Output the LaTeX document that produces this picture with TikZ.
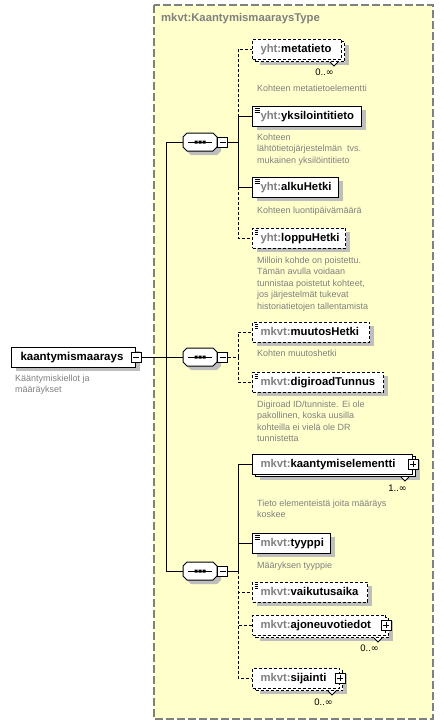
\documentclass[tikz,border=0pt]{standalone}
\usepackage{fontspec}
\setmainfont{Liberation Sans}
\newfontfamily\symfnt{DejaVu Sans}
\usetikzlibrary{calc}
\definecolor{typefill}{RGB}{255,255,204}
\definecolor{typeline}{RGB}{128,128,128}
\definecolor{shadowgray}{RGB}{190,190,190}
\definecolor{pregray}{RGB}{128,128,128}
\definecolor{descgray}{RGB}{128,128,128}
\newcommand\pfx[1]{\textcolor{pregray}{#1}}
\newcommand\infsym{{\symfnt ∞}}
\newcommand\compshape[1]{%
  \begin{scope}[shift={(#1.center)}]
    \fill[shadowgray,shift={(4,4)}] (-17,-5) -- (-13,-9) -- (13,-9) -- (17,-5) -- (17,5) -- (13,9) -- (-13,9) -- (-17,5) -- cycle;
    \draw[line width=1pt,fill=white] (-17,-5) -- (-13,-9) -- (13,-9) -- (17,-5) -- (17,5) -- (13,9) -- (-13,9) -- (-17,5) -- cycle;
    \draw[line width=1pt] (-12,0) -- (12,0);
    \fill (-5.5,-1.5) rectangle (-2.5,1.5) (-1.5,-1.5) rectangle (1.5,1.5) (2.5,-1.5) rectangle (5.5,1.5);
  \end{scope}}
\tikzset{
  elem/.style={draw=black, fill=white, line width=1pt, minimum height=20pt, inner xsep=8pt, inner ysep=0pt,
    anchor=west, align=left, text height=8.5pt, text depth=2.5pt, font=\fontsize{11.3}{13}\selectfont\bfseries},
  opt/.style={dash pattern=on 3pt off 2pt},
  single/.style={preaction={fill=shadowgray, draw=none, transform canvas={xshift=4pt, yshift=-4pt}}},
  multi/.style={preaction={fill=shadowgray, draw=none, transform canvas={xshift=7pt, yshift=-6pt}},
    preaction={fill=white, draw=black, line width=1pt, #1, transform canvas={xshift=3pt, yshift=-2.5pt}}},
  multi/.default=solid,
  icon/.style={path picture={\draw[line width=0.7pt]
    ([xshift=2pt,yshift=-2pt]path picture bounding box.north west) -- ++(5pt,0pt)
    ([xshift=2pt,yshift=-4pt]path picture bounding box.north west) -- ++(5pt,0pt)
    ([xshift=2pt,yshift=-6pt]path picture bounding box.north west) -- ++(5pt,0pt);}},
  pmbox/.style={draw=black, fill=white, line width=1pt, minimum size=10pt, inner sep=0pt},
  minusbox/.style={pmbox, path picture={\draw[line width=1pt]
    ([xshift=2pt]path picture bounding box.west) -- ([xshift=-2pt]path picture bounding box.east);}},
  plusbox/.style={pmbox, path picture={\draw[line width=1pt]
    ([xshift=2pt]path picture bounding box.west) -- ([xshift=-2pt]path picture bounding box.east)
    ([yshift=-2pt]path picture bounding box.north) -- ([yshift=2pt]path picture bounding box.south);}},
  compbox/.style={minimum width=34pt, minimum height=18pt, inner sep=0pt},
  conn/.style={draw=black, line width=1pt},
  desc/.style={anchor=north west, inner sep=0pt, align=left, text=descgray, font=\fontsize{9}{11.5}\selectfont},
  multnum/.style={anchor=east, inner sep=0pt, font=\fontsize{9.5}{12}\selectfont},
  notch/.style={draw=black, line width=0.8pt, fill=white}
}
\begin{document}
\begin{tikzpicture}[x=1pt,y=-1pt]
\useasboundingbox (0,0) rectangle (444,726);
% type container
\draw[typeline, line width=1.2pt, dash pattern=on 8pt off 3pt, fill=typefill] (154,5) rectangle (433,719);
\node[anchor=west, inner sep=0pt, text=pregray, font=\fontsize{11.3}{13}\selectfont\bfseries] (title) at (161,19) {mkvt:KaantymismaaraysType};

% main element
\node[elem, single, text width=106pt, inner xsep=9pt, font=\fontsize{11.5}{13}\selectfont\bfseries] (main) at (11,357) {kaantymismaarays};
\node[minusbox] (mainm) at (main.east) {};
\node[desc] (maind) at (15,374.5) {Kääntymiskiellot ja\\määräykset};

% compositors
\node[compbox] (c1) at (200,142) {};
\node[compbox] (c2) at (200,357) {};
\node[compbox] (c3) at (200,571) {};

% trunk connectors
\draw[conn] (mainm.east) -- (c2.west);
\draw[conn] (c1.west) -- ++(-16,0) |- (c3.west);

\compshape{c1}
\compshape{c2}
\compshape{c3}
\node[minusbox, anchor=west] (c1m) at (c1.east) {};
\node[minusbox, anchor=west] (c2m) at (c2.east) {};
\node[minusbox, anchor=west] (c3m) at (c3.east) {};
\coordinate (g1) at ($(c1m.east)+(10,0)$);
\coordinate (g2) at ($(c2m.east)+(10,0)$);
\coordinate (g3) at ($(c3m.east)+(10,0)$);

% group 1 elements
\node[elem, opt, multi=opt, text width=73pt] (meta) at (252,49) {\pfx{yht:}metatieto};
\draw[notch] ($(meta.south east)+(-12,2.5)$) -- ++(4,4) -- ++(4,-4);
\node[multnum] (metan) at (334,72) {0..\infsym};
\node[desc] (metad) at (257,84.5) {Kohteen metatietoelementti};

\node[elem, single, icon, text width=93pt] (yks) at (252,116) {\pfx{yht:}yksilointitieto};
\node[desc] (yksd) at (257,133.5) {Kohteen\\lähtötietojärjestelmän~ tvs.\\mukainen yksilöintitieto};

\node[elem, single, icon, text width=70pt] (alku) at (252,187) {\pfx{yht:}alkuHetki};
\node[desc] (alkud) at (257,206.5) {Kohteen luontipäivämäärä};

\node[elem, opt, single, icon, text width=77pt] (loppu) at (252,238) {\pfx{yht:}loppuHetki};
\node[desc] (loppud) at (257,256.5) {Milloin kohde on poistettu.\\Tämän avulla voidaan\\tunnistaa poistetut kohteet,\\jos järjestelmät tukevat\\historiatietojen tallentamista};

\draw[conn] (c1m.east) -- (g1);
\draw[conn, opt] (g1) |- (meta.west);
\draw[conn, opt] (g1) |- (loppu.west);
\draw[conn] (g1) |- (yks.west);
\draw[conn] (g1) |- (alku.west);

% group 2 elements
\node[elem, opt, single, icon, text width=101pt] (muutos) at (252,332) {\pfx{mkvt:}muutosHetki};
\node[desc] (muutosd) at (257,349.5) {Kohten muutoshetki};

\node[elem, opt, single, icon, text width=115pt] (digi) at (252,382) {\pfx{mkvt:}digiroadTunnus};
\node[desc] (digid) at (257,400.5) {Digiroad ID/tunniste. Ei ole\\pakollinen, koska uusilla\\kohteilla ei vielä ole DR\\tunnistetta};

\draw[conn, opt] (c2m.east) -- (g2);
\draw[conn, opt] (g2) |- (muutos.west);
\draw[conn, opt] (g2) |- (digi.west);

% group 3 elements
\node[elem, multi, text width=144pt] (kaant) at (252,464) {\pfx{mkvt:}kaantymiselementti};
\draw[notch] ($(kaant.south east)+(-12,2.5)$) -- ++(4,4) -- ++(4,-4);
\node[plusbox] (kaantp) at (kaant.east) {};
\node[multnum] (kaantn) at (407,488) {1..\infsym};
\node[desc] (kaantd) at (257,499.5) {Tieto elementeistä joita määräys\\koskee};

\node[elem, single, icon, text width=62pt] (tyyppi) at (252,543) {\pfx{mkvt:}tyyppi};
\node[desc] (tyyppid) at (257,561.5) {Määryksen tyyppie};

\node[elem, opt, single, icon, text width=99pt] (vaik) at (252,592) {\pfx{mkvt:}vaikutusaika};

\node[elem, opt, multi=opt, text width=117pt] (ajon) at (252,625) {\pfx{mkvt:}ajoneuvotiedot};
\draw[notch] ($(ajon.south east)+(-12,2.5)$) -- ++(4,4) -- ++(4,-4);
\node[plusbox] (ajonp) at (ajon.east) {};
\node[multnum] (ajonn) at (379,648) {0..\infsym};

\node[elem, opt, multi=opt, text width=71pt] (sij) at (252,678) {\pfx{mkvt:}sijainti};
\draw[notch] ($(sij.south east)+(-12,2.5)$) -- ++(4,4) -- ++(4,-4);
\node[plusbox] (sijp) at (sij.east) {};
\node[multnum] (sijn) at (333,702) {0..\infsym};

\draw[conn] (c3m.east) -- (g3);
\draw[conn, opt] (g3) |- (vaik.west);
\draw[conn, opt] (g3) |- (ajon.west);
\draw[conn, opt] (g3) |- (sij.west);
\draw[conn] (g3) |- (kaant.west);
\draw[conn] (g3) |- (tyyppi.west);
\end{tikzpicture}
\end{document}
